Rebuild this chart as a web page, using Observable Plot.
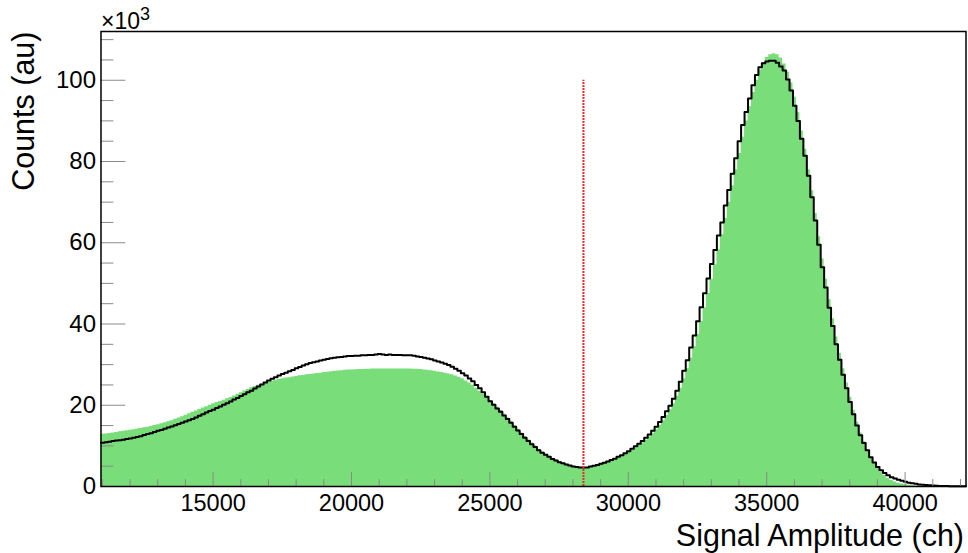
<!DOCTYPE html>
<html><head><meta charset="utf-8">
<script src="https://cdn.jsdelivr.net/npm/d3@7"></script>
<script src="https://cdn.jsdelivr.net/npm/@observablehq/plot@0.6"></script>
<style>
html,body{margin:0;padding:0;background:#fff;}
#chart{width:968px;height:553px;}
</style></head><body><div id="chart"></div>
<script>
// ---- data (counts in units of 10^3) ----
const binStart = 10950;
const binWidth = 125;
const xDomain = [10950, 42200];
const yDomain = [0, 112];
const xTickLabels = [15000, 20000, 25000, 30000, 35000, 40000];
const xMinorTicks = [11000,12000,13000,14000,16000,17000,18000,19000,21000,22000,23000,24000,26000,27000,28000,29000,31000,32000,33000,34000,36000,37000,38000,39000,41000,42000];
const yTickLabels = [0, 20, 40, 60, 80, 100];
const yMinorTicks = [5,10,15,25,30,35,45,50,55,65,70,75,85,90,95,105,110];
const cutX = 28380;
const cutTop = 100;
const xTitle = "Signal Amplitude (ch)";
const yTitle = "Counts (au)";

const black = [
10.8,10.9,11.0,11.2,11.3,11.4,11.5,11.7,11.8,12.0,
12.2,12.4,12.7,12.9,13.1,13.4,13.7,13.9,14.2,14.5,
14.8,15.1,15.4,15.7,16.0,16.3,16.6,17.0,17.4,17.8,
18.2,18.6,18.9,19.3,19.7,20.1,20.5,20.9,21.4,21.8,
22.3,22.7,23.2,23.6,24.1,24.6,25.1,25.6,26.1,26.5,
26.9,27.3,27.7,28.0,28.4,28.7,29.1,29.4,29.8,30.1,
30.4,30.6,30.8,31.0,31.2,31.4,31.6,31.7,31.8,31.9,
32.0,32.1,32.1,32.2,32.2,32.3,32.3,32.4,32.4,32.5,
32.6,32.5,32.4,32.5,32.4,32.4,32.4,32.3,32.3,32.3,
32.2,32.0,31.9,31.7,31.5,31.3,31.0,30.8,30.5,30.2,
29.9,29.5,29.0,28.5,27.9,27.3,26.6,25.9,25.0,24.2,
23.2,22.1,21.0,20.1,19.2,18.4,17.5,16.6,15.7,14.7,
13.8,12.9,12.0,11.2,10.4,9.7,8.9,8.3,7.8,7.3,
6.8,6.4,6.0,5.7,5.4,5.15,4.95,4.8,4.7,4.65,
4.7,4.9,5.1,5.3,5.6,5.85,6.15,6.5,6.85,7.3,
7.7,8.2,8.7,9.3,9.9,10.5,11.2,12.0,12.8,13.7,
14.7,15.9,17.1,18.5,19.9,21.6,23.6,25.8,28.5,31.1,
34.2,37.2,40.7,44.1,47.6,51.2,54.8,58.2,61.8,65.0,
69.2,73.0,77.0,80.8,85.0,89.0,92.2,95.5,98.8,101.3,
103.2,104.2,104.6,104.8,104.8,104.3,103.4,102.4,100.2,97.5,
93.7,90.0,85.6,81.4,76.5,71.2,65.5,59.5,54.0,49.0,
44.0,39.5,35.0,31.2,27.5,24.2,20.8,17.8,15.0,12.6,
10.7,8.9,7.2,5.9,4.8,4.0,3.3,2.8,2.3,1.95,
1.65,1.4,1.15,0.95,0.8,0.65,0.5,0.42,0.35,0.28,
0.22,0.18,0.15,0.12,0.1,0.08,0.07,0.06,0.05,0.04
];

const green = [
12.85,12.95,13.05,13.15,13.3,13.45,13.6,13.7,13.85,14.0,
14.15,14.3,14.45,14.6,14.75,15.0,15.2,15.45,15.7,15.95,
16.2,16.55,16.85,17.2,17.55,17.9,18.25,18.6,18.95,19.3,
19.65,20.0,20.35,20.65,20.95,21.25,21.6,21.9,22.3,22.7,
23.1,23.5,23.9,24.3,24.6,24.9,25.2,25.4,25.7,25.9,
26.15,26.35,26.55,26.7,26.8,26.95,27.1,27.25,27.35,27.5,
27.6,27.7,27.8,27.9,28.05,28.15,28.25,28.35,28.45,28.5,
28.6,28.65,28.7,28.75,28.8,28.8,28.85,28.85,28.9,28.9,
28.9,28.9,28.9,28.9,28.9,28.9,28.9,28.9,28.9,28.9,
28.85,28.85,28.8,28.7,28.6,28.5,28.35,28.2,28.05,27.85,
27.7,27.5,27.2,26.9,26.5,26.0,25.5,24.9,24.2,23.4,
22.7,21.9,21.1,20.4,19.5,18.7,17.8,16.9,16.0,15.0,
14.1,13.2,12.3,11.5,10.7,9.95,9.15,8.5,7.95,7.45,
6.95,6.5,6.1,5.75,5.45,5.2,4.98,4.82,4.72,4.66,
4.7,4.85,5.0,5.2,5.45,5.7,6.0,6.3,6.65,7.05,
7.45,7.9,8.4,8.9,9.5,10.1,10.7,11.4,12.2,13.0,
14.0,15.0,16.2,17.5,18.9,20.4,22.2,24.2,26.5,29.0,
31.6,34.4,37.4,40.6,44.0,47.5,51.0,54.6,58.3,62.0,
66.0,70.0,74.0,78.0,82.0,86.0,90.0,93.5,97.0,100.0,
102.5,104.3,105.6,106.3,106.5,106.3,105.5,104.0,102.0,99.3,
95.8,92.0,87.5,83.0,78.0,72.8,67.2,61.5,56.0,51.0,
46.0,41.3,36.8,32.8,29.0,25.5,22.0,18.8,15.8,13.2,
11.0,9.0,7.2,5.7,4.5,3.5,2.7,2.0,1.5,1.1,
0.8,0.6,0.45,0.3,0.2,0.15,0.1,0.07,0.05,0.03,
0.02,0.01,0,0,0,0,0,0,0,0
];

// ---- build step tables from the bins ----
function stepTable(values) {
  const pts = values.map((v, i) => ({x: binStart + i * binWidth, y: v}));
  pts.push({x: binStart + values.length * binWidth, y: values[values.length - 1]});
  return pts;
}
const blackPts = stepTable(black);
const greenPts = stepTable(green);

const tickUp = {draw(ctx, l) { ctx.moveTo(0, 0); ctx.lineTo(0, -l); }};
const tickColor = "#8a8a8a";

const chart = Plot.plot({
  width: 968,
  height: 553,
  marginLeft: 100.5,
  marginRight: 2.5,
  marginTop: 31,
  marginBottom: 67,
  style: {fontFamily: "'Liberation Sans', Arial, Helvetica, sans-serif", fontSize: "24px", background: "#fff", color: "#000", overflow: "visible"},
  x: {domain: xDomain, label: null},
  y: {domain: yDomain, label: null},
  marks: [
    Plot.areaY(greenPts, {x: "x", y: "y", curve: "step-after", fill: "#79dd79"}),
    Plot.line(blackPts, {x: "x", y: "y", curve: "step-after", stroke: "#000", strokeWidth: 2}),
    Plot.vector(xMinorTicks, {x: d => d, frameAnchor: "bottom", anchor: "start", rotate: 0, length: 7, shape: tickUp, stroke: tickColor, strokeWidth: 1}),
    Plot.vector(xTickLabels, {x: d => d, frameAnchor: "bottom", anchor: "start", rotate: 0, length: 14, shape: tickUp, stroke: tickColor, strokeWidth: 1}),
    Plot.vector(yMinorTicks, {y: d => d, frameAnchor: "left", anchor: "start", rotate: 90, length: 12, shape: tickUp, stroke: tickColor, strokeWidth: 1}),
    Plot.vector(yTickLabels, {y: d => d, frameAnchor: "left", anchor: "start", rotate: 90, length: 24, shape: tickUp, stroke: tickColor, strokeWidth: 1}),
    Plot.ruleX([cutX], {y1: 0, y2: cutTop, stroke: "#ee2a2a", strokeWidth: 2, strokeDasharray: "2 1"}),
    Plot.frame({stroke: "#000", strokeWidth: 1.5}),
    Plot.axisX(xTickLabels, {anchor: "bottom", tickSize: 0, tickPadding: 8, tickFormat: d3.format("d"), fontSize: 23.5, label: null}),
    Plot.axisY(yTickLabels, {anchor: "left", tickSize: 0, tickPadding: 5, fontSize: 24, label: null}),
    Plot.text([xTitle], {frameAnchor: "bottom-right", textAnchor: "end", lineAnchor: "bottom", dx: -2, dy: 59, fontSize: 30.5, fill: "#000"}),
    Plot.text([yTitle], {frameAnchor: "top-left", textAnchor: "end", lineAnchor: "bottom", rotate: -90, dx: -67, dy: 0, fontSize: 30.5, fill: "#000"}),
    Plot.text(["\u00d710"], {frameAnchor: "top-left", textAnchor: "start", lineAnchor: "bottom", dx: 0, dy: -3, fontSize: 23, fill: "#000"}),
    Plot.text(["3"], {frameAnchor: "top-left", textAnchor: "start", lineAnchor: "bottom", dx: 39, dy: -12, fontSize: 18, fill: "#000"})
  ]
});
document.getElementById("chart").appendChild(chart);
</script>
</body></html>
